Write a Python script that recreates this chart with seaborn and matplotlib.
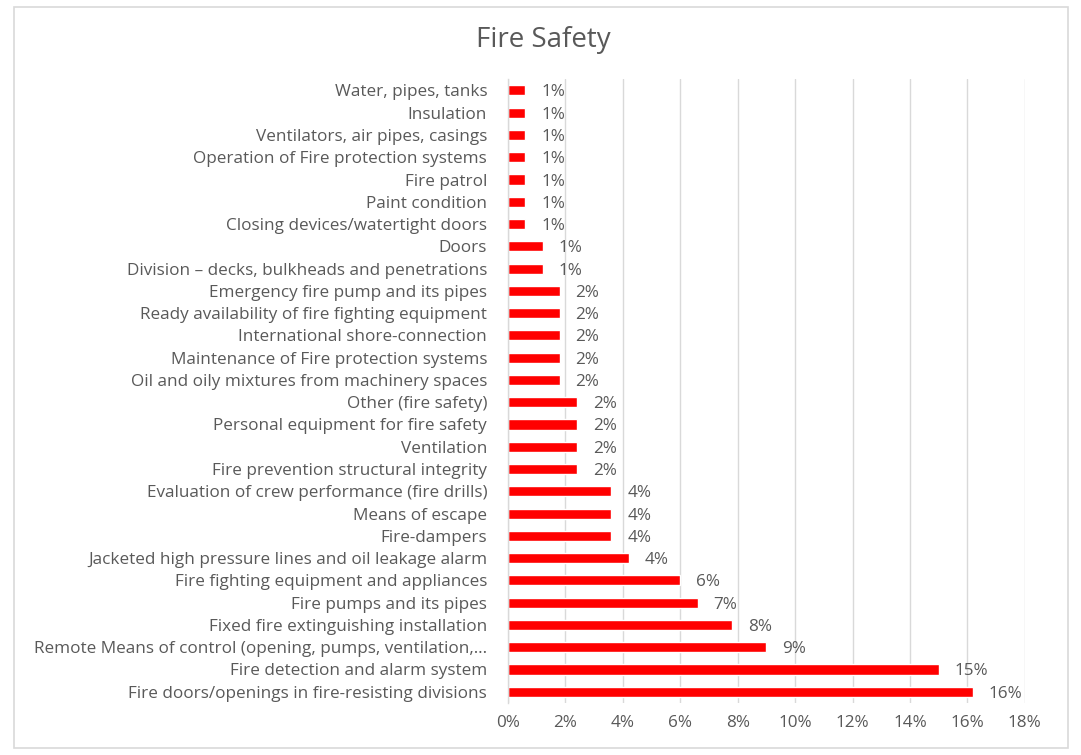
import seaborn as sns
import pandas as pd
import matplotlib
matplotlib.use("Agg")
import matplotlib.pyplot as plt
from matplotlib.patches import Rectangle

# categories, top to bottom as shown
categories = [
    "Water, pipes, tanks",
    "Insulation",
    "Ventilators, air pipes, casings",
    "Operation of Fire protection systems",
    "Fire patrol",
    "Paint condition",
    "Closing devices/watertight doors",
    "Doors",
    "Division \u2013 decks, bulkheads and penetrations",
    "Emergency fire pump and its pipes",
    "Ready availability of fire fighting equipment",
    "International shore-connection",
    "Maintenance of Fire protection systems",
    "Oil and oily mixtures from machinery spaces",
    "Other (fire safety)",
    "Personal equipment for fire safety",
    "Ventilation",
    "Fire prevention structural integrity",
    "Evaluation of crew performance (fire drills)",
    "Means of escape",
    "Fire-dampers",
    "Jacketed high pressure lines and oil leakage alarm",
    "Fire fighting equipment and appliances",
    "Fire pumps and its pipes",
    "Fixed fire extinguishing installation",
    "Remote Means of control (opening, pumps, ventilation,\u2026",
    "Fire detection and alarm system",
    "Fire doors/openings in fire-resisting divisions",
]
# share in percent
shares = [0.6, 0.6, 0.6, 0.6, 0.6, 0.6, 0.6, 1.2, 1.2,
          1.8, 1.8, 1.8, 1.8, 1.8,
          2.4, 2.4, 2.4, 2.4,
          3.6, 3.6, 3.6, 4.2,
          6.0, 6.6, 7.8, 9.0, 15.0, 16.2]
xticks = [0, 2, 4, 6, 8, 10, 12, 14, 16, 18]

df = pd.DataFrame({"Category": categories, "Share": shares})

sns.set_theme(style="white")
plt.rcParams["font.family"] = ["Open Sans", "DejaVu Sans"]
txt = "#595959"
fs = 12.3

fig = plt.figure(figsize=(10.81, 7.55), dpi=100)
ax = fig.add_axes([0.470, 0.069, 0.478, 0.826])

sns.barplot(data=df, y="Category", x="Share", orient="h", color="#FF0000",
            saturation=1, width=0.45, ax=ax)

for i, v in enumerate(shares):
    ax.text(v + 0.55, i, f"{round(v):.0f}%", va="center_baseline", ha="left",
            fontsize=fs, color=txt)

ax.set_xlim(0, 18)
ax.set_ylim(len(categories) - 0.5, -0.5)
ax.set_xticks(xticks)
ax.set_xticklabels([f"{t}%" for t in xticks])
ax.set_xlabel("")
ax.set_ylabel("")
ax.tick_params(axis="both", length=0, labelsize=fs, labelcolor=txt)
ax.tick_params(axis="y", pad=15)
ax.tick_params(axis="x", pad=9)
ax.xaxis.grid(True, color="#D9D9D9", linewidth=1)
ax.set_axisbelow(True)
for s in ["top", "right", "bottom"]:
    ax.spines[s].set_visible(False)
ax.spines["left"].set_color("#D9D9D9")
ax.spines["left"].set_linewidth(1)

fig.text(0.503, 0.947, "Fire Safety", ha="center", va="center",
         fontsize=20, color=txt)

fig.patches.append(Rectangle((0.013, 0.009), 0.975, 0.982, transform=fig.transFigure,
                             fill=False, edgecolor="#D9D9D9", linewidth=1.2))

fig.savefig("out.png", dpi=100)
